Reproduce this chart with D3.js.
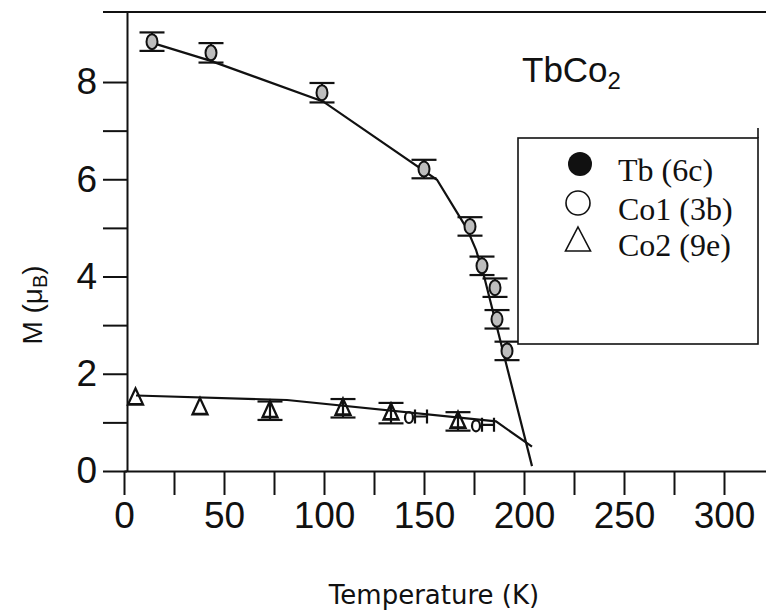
<!DOCTYPE html>
<html>
<head>
<meta charset="utf-8">
<script src="https://cdn.jsdelivr.net/npm/d3@7"></script>
<style>
  html, body { margin: 0; padding: 0; background: #fff; }
  svg { display: block; }
</style>
</head>
<body>
<svg id="chart" width="766" height="611"></svg>
<script>
// Sublattice magnetic moments of TbCo2 versus temperature

// Tb (6c) moments with error bars
const tbTemp = [14, 43.5, 99, 150, 173, 179, 185.5, 186.5, 191.5];
const tbMoment = [8.83, 8.60, 7.78, 6.21, 5.03, 4.22, 3.77, 3.12, 2.47];
const tbError = [0.19, 0.2, 0.2, 0.19, 0.19, 0.19, 0.19, 0.19, 0.19];

// Guide line through the Tb moments
const tbLineTemp = [14.5, 43, 99.5, 156.5, 171.5, 176, 180, 204];
const tbLineMoment = [8.80, 8.44, 7.60, 5.99, 4.98, 4.55, 4.01, 0.10];

// Co1 (3b) moments
const co1Temp = [142.5, 176];
const co1Moment = [1.10, 0.93];

// Co2 (9e) moments; null = no error bar drawn
const co2Temp = [5.75, 38, 73, 109.5, 133.5, 167];
const co2Moment = [1.50, 1.30, 1.24, 1.29, 1.19, 1.02];
const co2Error = [null, null, 0.19, 0.19, 0.21, 0.19];

// Guide line through the Co2 moments
const co2LineTemp = [6, 81.5, 186, 204];
const co2LineMoment = [1.553, 1.46, 1.02, 0.50];

// Axis ticks
const xTicks = [0, 25, 50, 75, 100, 125, 150, 175, 200, 225, 250, 275, 300];
const xTickLabels = [0, 50, 100, 150, 200, 250, 300];
const yTicks = [0, 1, 2, 3, 4, 5, 6, 7, 8];
const yTickLabels = [0, 2, 4, 6, 8];

const legendLabels = ["Tb (6c)", "Co1 (3b)", "Co2 (9e)"];

const svg = d3.select("#chart");
const ink = "#111";

const x = d3.scaleLinear().domain([0, 321]).range([124, 766]);
const y = d3.scaleLinear().domain([0, 9.44]).range([471, 12]);

// Axes
const xAxis = d3.axisBottom(x)
  .tickValues(xTicks)
  .tickSize(24)
  .tickSizeOuter(0)
  .tickPadding(7)
  .tickFormat(d => xTickLabels.includes(d) ? d : "");

const yAxis = d3.axisLeft(y)
  .tickValues(yTicks)
  .tickSize(24)
  .tickSizeOuter(0)
  .tickPadding(6)
  .tickFormat(d => yTickLabels.includes(d) ? d : "");

const gx = svg.append("g").attr("transform", `translate(0,${y(0)})`).call(xAxis);
const gy = svg.append("g").attr("transform", `translate(${x(0) + 3},0)`).call(yAxis);

[gx, gy].forEach(g => {
  g.select(".domain").attr("stroke", ink).attr("stroke-width", 2);
  g.selectAll(".tick line").attr("stroke", ink).attr("stroke-width", 2);
  g.selectAll(".tick text")
    .attr("fill", ink)
    .style("font-family", "'Liberation Sans', Arial, sans-serif")
    .style("font-size", "37px");
});

// Top frame line
svg.append("line")
  .attr("x1", x(0) + 3 - 24).attr("x2", 766)
  .attr("y1", y(9.44)).attr("y2", y(9.44))
  .attr("stroke", ink).attr("stroke-width", 2);

// Axis titles
svg.append("text")
  .attr("x", 434).attr("y", 604)
  .attr("text-anchor", "middle")
  .attr("fill", ink)
  .style("font-family", "'DejaVu Sans', Verdana, sans-serif")
  .style("font-size", "26px")
  .text("Temperature (K)");

const yTitle = svg.append("text")
  .attr("transform", "translate(42,305) rotate(-90)")
  .attr("text-anchor", "middle")
  .attr("fill", ink)
  .style("font-family", "'Liberation Sans', Arial, sans-serif")
  .style("font-size", "28px");
yTitle.append("tspan").text("M (\u03bc");
yTitle.append("tspan").attr("dy", 5).style("font-size", "20px").text("B");
yTitle.append("tspan").attr("dy", -5).text(")");

// Compound label
const comp = svg.append("text")
  .attr("x", 522).attr("y", 82)
  .attr("fill", ink)
  .style("font-family", "'Liberation Sans', Arial, sans-serif")
  .style("font-size", "35px");
comp.append("tspan").text("TbCo");
comp.append("tspan").attr("dy", 7).style("font-size", "24px").text("2");

// Guide lines
const line = d3.line().x(d => x(d[0])).y(d => y(d[1]));
svg.append("path")
  .attr("d", line(d3.zip(tbLineTemp, tbLineMoment)))
  .attr("fill", "none").attr("stroke", ink).attr("stroke-width", 2.2);
svg.append("path")
  .attr("d", line(d3.zip(co2LineTemp, co2LineMoment)))
  .attr("fill", "none").attr("stroke", ink).attr("stroke-width", 2.2);

// Error bars
function errorBars(temps, moments, errs) {
  const g = svg.append("g").attr("stroke", ink).attr("stroke-width", 2.2);
  temps.forEach((t, i) => {
    const e = errs[i];
    if (e == null) return;
    const cx = x(t), yt = y(moments[i] + e), yb = y(moments[i] - e);
    g.append("line").attr("x1", cx).attr("x2", cx).attr("y1", yt).attr("y2", yb);
    g.append("line").attr("x1", cx - 12.5).attr("x2", cx + 12.5).attr("y1", yt).attr("y2", yt);
    g.append("line").attr("x1", cx - 12.5).attr("x2", cx + 12.5).attr("y1", yb).attr("y2", yb);
  });
}
errorBars(tbTemp, tbMoment, tbError);
errorBars(co2Temp, co2Moment, co2Error);

// Tb markers
svg.append("g").selectAll("ellipse")
  .data(d3.zip(tbTemp, tbMoment))
  .join("ellipse")
  .attr("cx", d => x(d[0])).attr("cy", d => y(d[1]))
  .attr("rx", 5.5).attr("ry", 7.5)
  .attr("fill", "#bdbdbd").attr("stroke", ink).attr("stroke-width", 2);

// Co2 markers
const tri = d3.symbol().type(d3.symbolTriangle).size(95);
svg.append("g").selectAll("path")
  .data(d3.zip(co2Temp, co2Moment))
  .join("path")
  .attr("transform", d => `translate(${x(d[0])},${y(d[1]) + 1}) scale(1,1.25)`)
  .attr("d", tri)
  .attr("fill", "none").attr("stroke", ink).attr("stroke-width", 2.2);

// Co1 markers with their bar glyph
const co1 = svg.append("g").attr("stroke", ink).attr("stroke-width", 2.2).attr("fill", "none");
d3.zip(co1Temp, co1Moment).forEach(d => {
  const cx = x(d[0]), cy = y(d[1]);
  co1.append("ellipse").attr("cx", cx).attr("cy", cy).attr("rx", 4).attr("ry", 5.5);
  co1.append("path")
    .attr("d", `M${cx + 6},${cy - 8}V${cy + 6}M${cx + 18},${cy - 8}V${cy + 6}M${cx + 6},${cy - 1}H${cx + 18}`);
});

// Legend
const lg = svg.append("g");
lg.append("rect")
  .attr("x", 518).attr("y", 138).attr("width", 240).attr("height", 206)
  .attr("fill", "#fff").attr("stroke", ink).attr("stroke-width", 1.6);
lg.append("line")
  .attr("x1", 758).attr("x2", 758).attr("y1", 128).attr("y2", 138)
  .attr("stroke", ink).attr("stroke-width", 1.6);

const rowY = [164, 203, 239];
lg.append("circle").attr("cx", 580).attr("cy", rowY[0]).attr("r", 12)
  .attr("fill", "#111");
lg.append("circle").attr("cx", 578).attr("cy", rowY[1]).attr("r", 12)
  .attr("fill", "none").attr("stroke", ink).attr("stroke-width", 1.6);
lg.append("path")
  .attr("d", `M578,${rowY[2] - 12}L590.5,${rowY[2] + 12}L565.5,${rowY[2] + 12}Z`)
  .attr("fill", "none").attr("stroke", ink).attr("stroke-width", 1.6);

lg.selectAll("text.leg")
  .data(legendLabels)
  .join("text")
  .attr("class", "leg")
  .attr("x", 618)
  .attr("y", (d, i) => rowY[i] + 17)
  .attr("fill", ink)
  .style("font-family", "'Liberation Serif', 'Times New Roman', serif")
  .style("font-size", "32px")
  .text(d => d);
</script>
</body>
</html>
